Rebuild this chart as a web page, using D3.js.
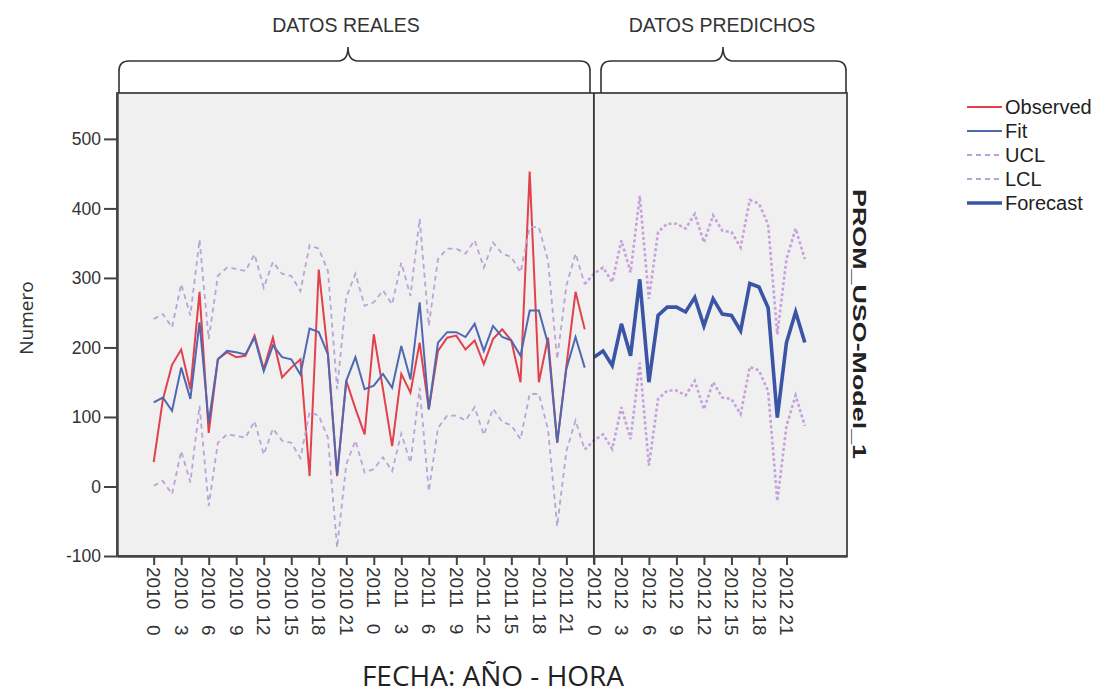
<!DOCTYPE html>
<html><head><meta charset="utf-8">
<script src="https://cdn.jsdelivr.net/npm/d3@7"></script>
<style>
html,body{margin:0;padding:0;background:#fff;}
svg{display:block;}
</style></head>
<body>
<svg id="chart" width="1104" height="698"></svg>
<script>
// ---- data ----
const years = [2010, 2011, 2012];
const hours = d3.range(24);
const tickHours = [0, 3, 6, 9, 12, 15, 18, 21];
const yTicks = [-100, 0, 100, 200, 300, 400, 500];

const observed = [35,125,175,197,140,280,77,183,193,186,188,217,169,214,157,171,183,15,312,190,15,152,112,75,
  219,140,58,162,135,207,111,195,214,217,197,210,176,212,226,210,150,453,150,214,63,173,280,226];
const fit = [121,128,109,171,126,236,92,183,195,193,190,214,166,203,186,183,161,227,222,190,17,152,186,140,
  145,162,142,202,154,265,111,207,222,222,215,234,195,231,215,210,188,253,253,205,63,169,215,171];
const forecast = [186,195,174,234,188,298,150,246,258,258,251,272,231,270,248,246,224,292,287,257,99,207,251,207];
const ucl = [241,248,229,291,246,355,212,303,315,313,310,334,286,323,306,303,281,347,342,310,140,272,306,260,
  265,282,262,322,274,385,231,327,342,342,335,354,315,351,335,330,308,373,373,325,183,289,335,291,
  306,315,294,354,308,418,270,366,378,378,371,392,351,390,368,366,344,412,407,377,219,327,371,327];
const lcl = [1,8,-11,51,6,116,-28,63,75,73,70,94,46,83,66,63,41,107,102,70,-88,32,66,20,
  25,42,22,76,34,142,-7,84,102,102,95,114,74,112,93,88,68,133,133,82,-57,51,95,53,
  66,75,54,114,68,178,30,126,138,138,131,152,111,150,128,126,104,172,167,137,-21,87,131,87];

const legendItems = ["Observed", "Fit", "UCL", "LCL", "Forecast"];

// ---- layout ----
const svg = d3.select("#chart");
const L = 117, R = 847, T = 93, B = 556;
const x = d3.scaleLinear().domain([-4, 75.6]).range([L, R]);
const y = d3.scaleLinear().domain([-100, 566]).range([B, T]);
const FONT = "Arial, 'Liberation Sans', sans-serif";

const cats = [];
years.forEach(yr => hours.forEach(h => cats.push({yr, h})));
const tickIdx = cats.map((c, i) => i).filter(i => tickHours.includes(cats[i].h));
const labelOf = i => cats[i].yr + " " + (cats[i].h < 10 ? "\u2007" : "") + cats[i].h;

// plot background
svg.append("rect").attr("x", L).attr("y", T).attr("width", R - L).attr("height", B - T)
  .attr("fill", "#f0f0f0").attr("stroke", "#555").attr("stroke-width", 2);

// lines
const line = d3.line().x(d => x(d[0])).y(d => y(d[1]));
const obsPts = observed.map((v, i) => [i, v]);
const fitPts = fit.map((v, i) => [i, v]);
const fcPts = forecast.map((v, i) => [i + 48, v]);
const uclA = ucl.slice(0, 48).map((v, i) => [i, v]);
const uclB = ucl.slice(47).map((v, i) => [i + 47, v]);
const lclA = lcl.slice(0, 48).map((v, i) => [i, v]);
const lclB = lcl.slice(47).map((v, i) => [i + 47, v]);

const g = svg.append("g");
g.append("path").attr("d", line(obsPts)).attr("fill", "none").attr("stroke", "#e2404b").attr("stroke-width", 2);
g.append("path").attr("d", line(fitPts)).attr("fill", "none").attr("stroke", "#5068b2").attr("stroke-width", 2);
[uclA, lclA].forEach(p => g.append("path").attr("d", line(p)).attr("fill", "none")
  .attr("stroke", "#b8a4d6").attr("stroke-width", 1.8).attr("stroke-dasharray", "5,4"));
[uclB, lclB].forEach(p => g.append("path").attr("d", line(p)).attr("fill", "none")
  .attr("stroke", "#c6a2dc").attr("stroke-width", 2.6).attr("stroke-dasharray", "3,2.5"));
g.append("path").attr("d", line(fcPts)).attr("fill", "none").attr("stroke", "#3b55a6").attr("stroke-width", 3.6)
  .attr("stroke-linejoin", "miter");

// divider
svg.append("line").attr("x1", x(48)).attr("x2", x(48)).attr("y1", T).attr("y2", B + 8)
  .attr("stroke", "#333").attr("stroke-width", 1.8);

// y axis
const yAx = svg.append("g").attr("transform", `translate(${L},0)`)
  .call(d3.axisLeft(y).tickValues(yTicks).tickFormat(d => String(d)).tickSize(13).tickSizeOuter(0).tickPadding(3));
yAx.select(".domain").attr("stroke", "#444").attr("stroke-width", 2.5);
yAx.selectAll(".tick line").attr("stroke", "#444").attr("stroke-width", 2);
yAx.selectAll("text").style("font-family", FONT).style("font-size", "17.5px").attr("fill", "#333");

// x axis
const xAx = svg.append("g").attr("transform", `translate(0,${B})`)
  .call(d3.axisBottom(x).tickValues(tickIdx).tickFormat(labelOf).tickSize(9).tickSizeOuter(0));
xAx.select(".domain").attr("stroke", "#444").attr("stroke-width", 2.5);
xAx.selectAll(".tick line").attr("stroke", "#444").attr("stroke-width", 2);
xAx.selectAll("text").attr("transform", "rotate(90)").attr("x", 11).attr("y", 0).attr("dy", "0.36em")
  .style("text-anchor", "start").style("font-family", FONT).style("font-size", "19px").attr("fill", "#333");

// axis titles
svg.append("text").attr("transform", "translate(33,318) rotate(-90)").attr("text-anchor", "middle")
  .style("font-family", "'Open Sans', sans-serif").style("font-size", "19px").attr("fill", "#2e3333").text("Numero");
svg.append("text").attr("x", 493).attr("y", 686).attr("text-anchor", "middle")
  .style("font-family", "'Open Sans', sans-serif").style("font-size", "28px").attr("fill", "#222").text("FECHA: AÑO - HORA");
svg.append("text").attr("transform", "translate(853,324) rotate(90)").attr("text-anchor", "middle")
  .attr("textLength", 270).attr("lengthAdjust", "spacingAndGlyphs")
  .style("font-family", FONT).style("font-weight", "bold").style("font-size", "19px").attr("fill", "#222")
  .text("PROM_USO-Model_1");

// braces and headers
function brace(xa, xb, xm) {
  const yb = T, yh = 61, yt = 47, r = 10;
  return `M${xa},${yb} L${xa},${yh + r} Q${xa},${yh} ${xa + r},${yh} L${xm - 10},${yh} Q${xm},${yh} ${xm},${yt}` +
    ` Q${xm},${yh} ${xm + 10},${yh} L${xb - r},${yh} Q${xb},${yh} ${xb},${yh + r} L${xb},${yb}`;
}
svg.append("path").attr("d", brace(119, 590, 348)).attr("fill", "none").attr("stroke", "#333").attr("stroke-width", 1.6);
svg.append("path").attr("d", brace(601, 846, 723)).attr("fill", "none").attr("stroke", "#333").attr("stroke-width", 1.6);
svg.append("text").attr("x", 346).attr("y", 32).attr("text-anchor", "middle")
  .style("font-family", FONT).style("font-size", "19.5px").attr("fill", "#333").text("DATOS REALES");
svg.append("text").attr("x", 722).attr("y", 32).attr("text-anchor", "middle")
  .style("font-family", FONT).style("font-size", "19.5px").attr("fill", "#333").text("DATOS PREDICHOS");

// legend
const legStyles = [
  {stroke: "#e2404b", w: 2, dash: null},
  {stroke: "#5068b2", w: 2, dash: null},
  {stroke: "#b8a4d6", w: 1.8, dash: "5,4"},
  {stroke: "#b8a4d6", w: 1.8, dash: "5,4"},
  {stroke: "#3b55a6", w: 3.6, dash: null}
];
const leg = svg.append("g");
legendItems.forEach((name, k) => {
  const yy = 107 + k * 24;
  leg.append("line").attr("x1", 967).attr("x2", 1002).attr("y1", yy).attr("y2", yy)
    .attr("stroke", legStyles[k].stroke).attr("stroke-width", legStyles[k].w)
    .attr("stroke-dasharray", legStyles[k].dash);
  leg.append("text").attr("x", 1005).attr("y", yy).attr("dy", "0.35em")
    .style("font-family", FONT).style("font-size", "20px").attr("fill", "#222").text(name);
});
</script>
</body></html>
